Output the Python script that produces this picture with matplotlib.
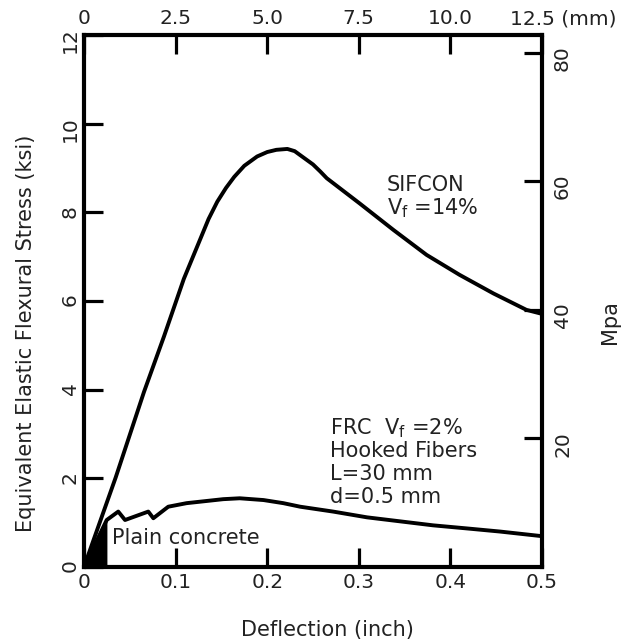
import numpy as np
import matplotlib
matplotlib.use("Agg")
import matplotlib.pyplot as plt

plt.rcParams['font.family'] = ['DejaVu Sans']

# SIFCON Vf=14% (deflection in inch, stress in ksi)
sifcon_x = [0, 0.0346, 0.0655, 0.0873, 0.109, 0.127, 0.136, 0.1455, 0.155, 0.164, 0.175,
            0.189, 0.200, 0.210, 0.222, 0.230, 0.238, 0.250, 0.258, 0.265, 0.301,
            0.338, 0.374, 0.410, 0.447, 0.483, 0.498]
sifcon_y = [0, 2.02, 3.95, 5.20, 6.50, 7.40, 7.85, 8.24, 8.55, 8.80, 9.05,
            9.26, 9.36, 9.41, 9.43, 9.38, 9.26, 9.08, 8.92, 8.77, 8.20,
            7.60, 7.04, 6.59, 6.17, 5.80, 5.72]

# FRC Vf=2% hooked fibers
frc_x = [0, 0.0248, 0.0374, 0.0448, 0.0702, 0.0757, 0.092, 0.112, 0.152, 0.170, 0.196,
         0.2176, 0.236, 0.272, 0.309, 0.345, 0.381, 0.418, 0.454, 0.498]
frc_y = [0, 1.06, 1.25, 1.06, 1.25, 1.10, 1.36, 1.44, 1.53, 1.55, 1.51,
         1.44, 1.36, 1.25, 1.12, 1.03, 0.94, 0.87, 0.80, 0.70]

# plain concrete (filled)
plain_x = [0, 0.0248, 0.0248]
plain_y = [0, 1.06, 0]

x_ticks = [0, 0.1, 0.2, 0.3, 0.4, 0.5]
x_labels = ['0', '0.1', '0.2', '0.3', '0.4', '0.5']
y_ticks = [0, 2, 4, 6, 8, 10, 12]
mm_ticks = [0, 2.5, 5.0, 7.5, 10.0, 12.5]
mm_labels = ['0', '2.5', '5.0', '7.5', '10.0', '']
mpa_ticks = [20, 40, 60, 80]

fs = 14.5
tc = '#222222'
W, H = 624, 644
fig = plt.figure(figsize=(W / 100, H / 100), dpi=100)
ax = fig.add_axes([84 / W, 77 / H, 458 / W, 532 / H])

ax.plot(sifcon_x, sifcon_y, color='black', lw=2.8, solid_joinstyle='round')
ax.plot(frc_x, frc_y, color='black', lw=2.8, solid_joinstyle='round')
ax.fill(plain_x, plain_y, color='black')

ax.set_xlim(0, 0.5)
ax.set_ylim(0, 12)
ax.set_xticks(x_ticks)
ax.set_xticklabels(x_labels)
ax.set_yticks(y_ticks)
ax.tick_params(direction='in', length=14, width=2.3, labelsize=fs, pad=4, labelcolor=tc)
ax.tick_params(axis='y', labelrotation=90, pad=3)
for s in ax.spines.values():
    s.set_linewidth(3)

axr = ax.twinx()
axr.set_ylim(0, 12 * 6.895)
axr.set_yticks(mpa_ticks)
axr.tick_params(direction='in', length=13, width=2.3, labelsize=fs, pad=8,
                labelrotation=90, labelcolor=tc)
axt = ax.twiny()
axt.set_xlim(0, 12.5)
axt.set_xticks(mm_ticks)
axt.set_xticklabels(mm_labels)
axt.tick_params(direction='in', length=14, width=2.3, labelsize=fs, pad=5, labelcolor=tc)
for a in (axr, axt):
    for s in a.spines.values():
        s.set_visible(False)
axt.annotate('12.5 (mm)', xy=(12.5, 1), xycoords=('data', 'axes fraction'),
             xytext=(-32, 7), textcoords='offset pixels', ha='left', va='bottom',
             fontsize=fs, color=tc)

ax.text(0.3305, 8.62, 'SIFCON', fontsize=15, va='center', color=tc)
ax.text(0.3305, 8.10, r'V$_\mathregular{f}$ =14%', fontsize=15, va='center', color=tc)
frc_lines = [r'FRC  V$_\mathregular{f}$ =2%', 'Hooked Fibers', 'L=30 mm', 'd=0.5 mm']
for i, t in enumerate(frc_lines):
    ax.text(0.2686, 3.14 - i * 0.52, t, fontsize=15, va='center', color=tc)
ax.text(0.0306, 0.66, 'Plain concrete', fontsize=15, va='center', color=tc)

fig.text(327 / W, 1 - 630 / H, 'Deflection (inch)', fontsize=15, ha='center', va='center', color=tc)
fig.text(26 / W, 1 - 333 / H, 'Equivalent Elastic Flexural Stress (ksi)', fontsize=15,
         ha='center', va='center', rotation=90, color=tc)
fig.text(610 / W, 1 - 322 / H, 'Mpa', fontsize=15, ha='center', va='center', rotation=90, color=tc)

fig.savefig('out.png', dpi=100)
